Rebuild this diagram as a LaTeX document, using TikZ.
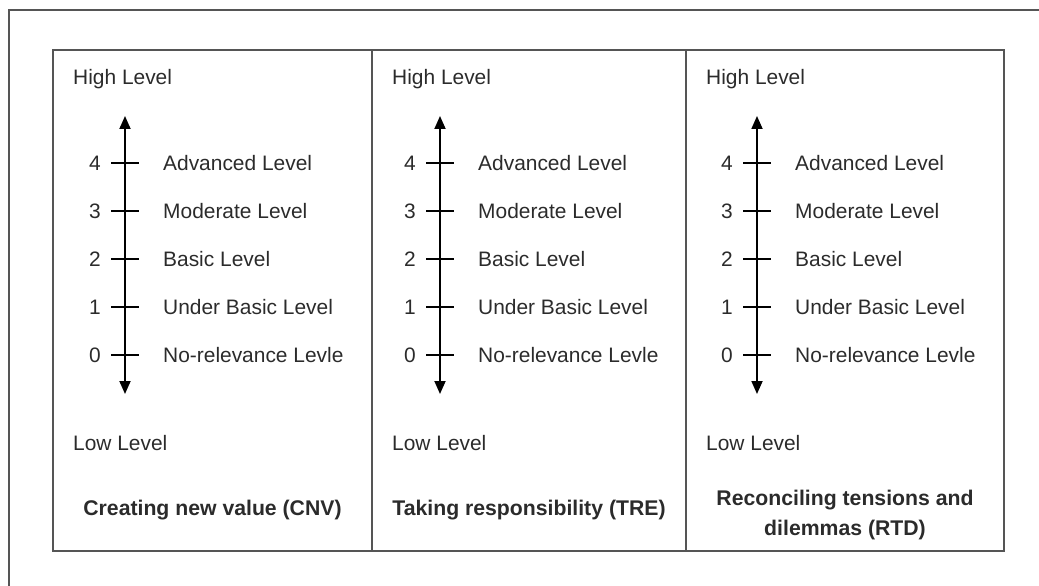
\documentclass[tikz,border=0pt]{standalone}
\usepackage{fontspec}
\setmainfont{Liberation Sans}
\usetikzlibrary{arrows.meta}
\definecolor{frame}{HTML}{555555}
\definecolor{txt}{HTML}{2B2B2B}
\begin{document}
\begin{tikzpicture}[x=1bp,y=-1bp,
  framebox/.style={draw=frame,line width=1.4bp},
  lbl/.style={anchor=base west,inner sep=0pt,text=txt,font=\fontsize{21}{25}\selectfont},
  num/.style={anchor=base east,inner sep=0pt,text=txt,font=\fontsize{21}{25}\selectfont},
  ttl/.style={anchor=base,inner sep=0pt,text=txt,font=\fontsize{21.3}{30}\selectfont\bfseries},
  axisline/.style={line width=1.8bp,-{Triangle[length=13bp,width=11bp]}},
  tickline/.style={line width=1.3bp}]
\useasboundingbox (0,0) rectangle (1039,586);
% outer frame (cut at right and bottom)
\draw[framebox] (9,600) -- (9,10) -- (1050,10);
% inner box and dividers
\draw[framebox] (53,50) rectangle (1004,551);
\draw[framebox] (372,50) -- (372,551);
\draw[framebox] (686,50) -- (686,551);
\foreach \p/\L/\A/\C in {a/53/125/212.5, b/372/440/529, c/686/757/845}{
  \node[lbl] (\p hi) at (\L+20,85) {High Level};
  \node[lbl] (\p lo) at (\L+20,450) {Low Level};
  \coordinate (\p top) at (\A,116);
  \coordinate (\p bot) at (\A,394);
  \coordinate (\p mid) at (\A,259);
  \draw[axisline] (\p mid) -- (\p top);
  \draw[axisline] (\p mid) -- (\p bot);
  \foreach \n/\y/\t in {4/163/Advanced Level,3/211/Moderate Level,2/259/Basic Level,1/307/Under Basic Level,0/355/No-relevance Levle}{
    \coordinate (\p tl\n) at (\A-14,\y);
    \coordinate (\p tr\n) at (\A+14,\y);
    \draw[tickline] (\p tl\n) -- (\p tr\n);
    \node[num] (\p n\n) at (\A-24,\y+7.5) {\n};
    \node[lbl] (\p t\n) at (\A+38,\y+7.5) {\t};
  }
}
\node[ttl] (ta) at (212.5,515) {Creating new value (CNV)};
\node[ttl] (tb) at (529,515) {Taking responsibility (TRE)};
\node[ttl] (tc1) at (845,505) {Reconciling tensions and};
\node[ttl] (tc2) at (845,535) {dilemmas (RTD)};
\end{tikzpicture}
\end{document}
